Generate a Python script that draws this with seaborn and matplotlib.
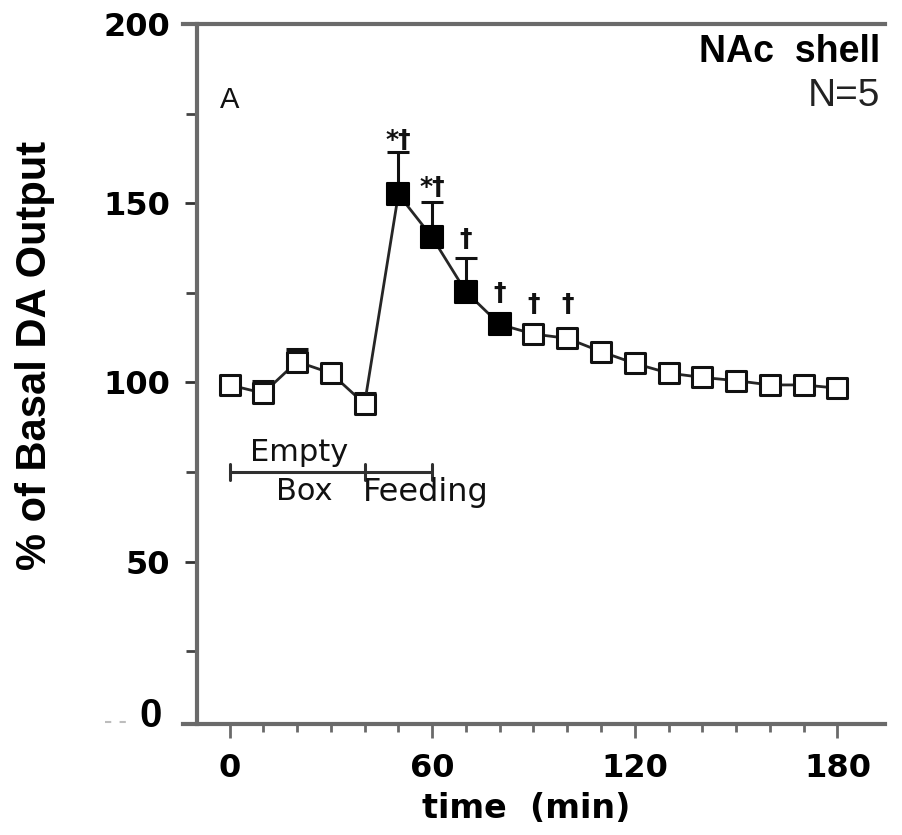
import numpy as np
import pandas as pd
import matplotlib
matplotlib.use("Agg")
import matplotlib.pyplot as plt
from matplotlib.ticker import FixedLocator
import seaborn as sns

# Dialysate dopamine in the NAc shell, sampled every 10 min
time_min = [0, 10, 20, 30, 40, 50, 60, 70, 80, 90, 100, 110, 120, 130, 140, 150, 160, 170, 180]
da_output = [99.3, 97.0, 105.8, 102.6, 94.0, 152.5, 140.5, 125.3, 116.2, 113.5, 112.3, 108.6,
             105.3, 102.6, 101.4, 100.5, 99.3, 99.3, 98.4]
sem_upper = [1.5, 3.5, 3.5, 1.5, 3.0, 11.7, 9.9, 9.3, 2.0, 1.5, 1.5, 1.5,
             1.0, 1.0, 1.0, 1.0, 1.0, 1.0, 1.0]
significant = [False, False, False, False, False, True, True, True, True, False, False, False,
               False, False, False, False, False, False, False]
marks = {50: "*\u2020", 60: "*\u2020", 70: "\u2020", 80: "\u2020", 90: "\u2020", 100: "\u2020"}
mark_y = {50: 167.5, 60: 154.5, 70: 140.0, 80: 125.0, 90: 122.0, 100: 122.0}

x_major = [0, 60, 120, 180]
y_major = [50, 100, 150, 200]
y_minor = [25, 75, 125, 175]

df = pd.DataFrame({"time": time_min, "da": da_output, "sem": sem_upper,
                   "sig": ["sig" if s else "ns" for s in significant]})

sns.set_style("ticks")
plt.rcParams["font.family"] = ["DejaVu Sans"]

W, H = 902, 835
fig = plt.figure(figsize=(W / 100, H / 100), dpi=100)
ax = fig.add_axes([183 / W, 1 - 724 / H, (885 - 183) / W, 700 / H])

spine_col = "#6a6a6a"
ink = "#111111"

# upper error bars
ax.errorbar(df["time"], df["da"], yerr=[np.zeros(len(df)), df["sem"]], fmt="none",
            ecolor=ink, elinewidth=2.2, capsize=8, capthick=2.2, zorder=2)

# connecting line
sns.lineplot(data=df, x="time", y="da", ax=ax, color="#262626", linewidth=2.0,
             sort=True, zorder=2, legend=False)

# open and filled squares
open_df = df[df["sig"] == "ns"]
fill_df = df[df["sig"] == "sig"]
sns.scatterplot(data=open_df, x="time", y="da", ax=ax, marker="s", s=190,
                facecolor="white", edgecolor=ink, linewidth=2.2, zorder=4, legend=False)
sns.scatterplot(data=fill_df, x="time", y="da", ax=ax, marker="s", s=240,
                color="black", edgecolor="black", linewidth=1.5, zorder=4, legend=False)

# significance marks
for t, lab in marks.items():
    ax.text(t, mark_y[t], lab, ha="center", va="center", fontsize=18,
            fontweight="bold", color=ink, zorder=5)

# period bracket
yb = 75
ax.plot([0, 60], [yb, yb], color="#303030", lw=2.2, zorder=3)
for xt in [0, 40, 60]:
    ax.plot([xt, xt], [yb - 2.3, yb + 2.3], color="#303030", lw=2.2, zorder=3)
ax.text(20.5, yb + 1.4, "Empty", ha="center", va="bottom", fontsize=22, color=ink)
ax.text(22, yb - 1.4, "Box", ha="center", va="top", fontsize=22, color=ink)
ax.text(39.5, yb - 1.4, "Feeding", ha="left", va="top", fontsize=23, color=ink)

# panel annotations
ax.text(0, 178.8, "A", ha="center", va="center", fontsize=21, color=ink,
        family="Liberation Sans")
ax.text(192.6, 192.2, "NAc  shell", ha="right", va="center", fontsize=27,
        fontweight="bold", color="black", family="Liberation Sans")
ax.text(192.6, 180.0, "N=5", ha="right", va="center", fontsize=28, color="#222222",
        family="Liberation Sans")

# axes limits, spines and ticks
ax.set_xlim(-13.77, 194.1)
ax.set_ylim(4.7, 200)
ax.spines["right"].set_visible(False)
ax.spines["left"].set_position(("data", -9.7))
for s in ["left", "top", "bottom"]:
    ax.spines[s].set_color(spine_col)
    ax.spines[s].set_linewidth(3)

ax.xaxis.set_major_locator(FixedLocator(x_major))
ax.xaxis.set_minor_locator(FixedLocator(list(range(10, 180, 10))))
ax.yaxis.set_major_locator(FixedLocator(y_major))
ax.yaxis.set_minor_locator(FixedLocator(y_minor))
ax.tick_params(axis="x", which="major", length=10, width=2, color=spine_col,
               direction="out", pad=11, labelcolor="black")
ax.tick_params(axis="x", which="minor", length=6, width=2, color=spine_col, direction="out")
ax.tick_params(axis="y", which="major", length=9, width=2, color="#333333",
               direction="out", pad=10, labelcolor="black")
ax.tick_params(axis="y", which="minor", length=8, width=2, color="#444444", direction="out")
ax.set_xticklabels([str(v) for v in x_major], fontsize=23, fontweight="bold")
ax.set_yticklabels([str(v) for v in y_major], fontsize=23, fontweight="bold")
ax.set_xlabel("")
ax.set_ylabel("")

# axis titles and the zero label
fig.text(526 / W, 1 - 808 / H, "time  (min)", ha="center", va="center",
         fontsize=24, fontweight="bold", color="black")
fig.text(35 / W, 1 - 355 / H, "% of Basal DA Output", ha="center", va="center",
         rotation=90, fontsize=30, fontweight="bold", family="Liberation Sans",
         color="black")
fig.text(151 / W, 1 - 716 / H, "0", ha="center", va="center", fontsize=29,
         fontweight="bold", family="Liberation Sans", color="black")
fig.add_artist(plt.Line2D([105 / W, 134 / W], [1 - 722 / H, 1 - 722 / H],
                          color="#bdbdbd", lw=1.5, ls=(0, (3, 4))))

fig.savefig("out.png", dpi=100, facecolor="white")
